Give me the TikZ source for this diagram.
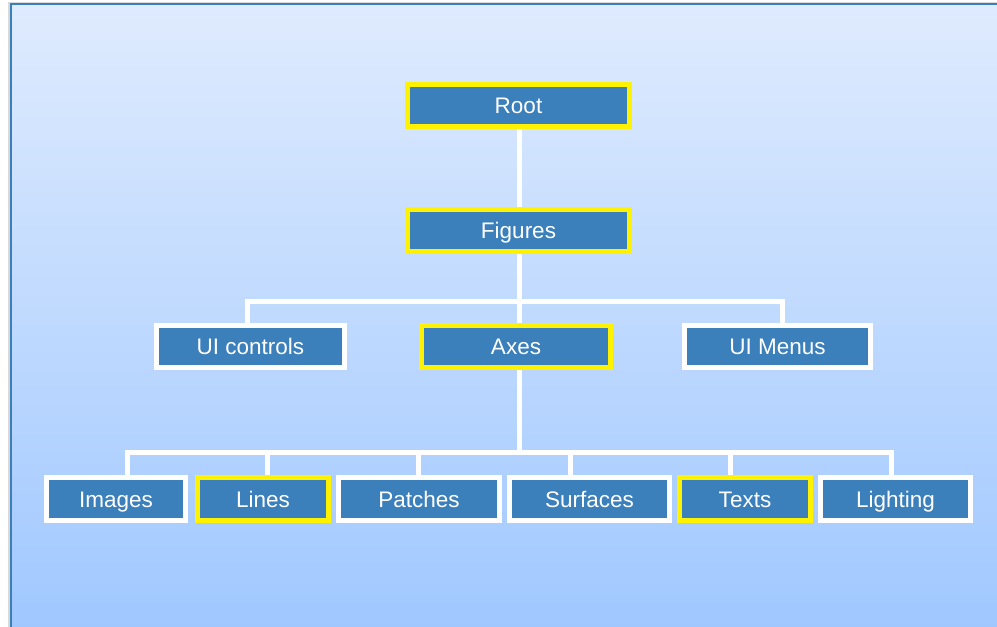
\documentclass[tikz,border=0pt]{standalone}
\usepackage{fontspec}
\setmainfont{Liberation Sans}
\usepackage{xcolor}
\usepackage{tikz}
\usetikzlibrary{shadows,backgrounds}

\definecolor{bgtop}{RGB}{223,235,254}
\definecolor{bgbot}{RGB}{160,200,255}
\definecolor{boxblue}{RGB}{59,127,187}
\definecolor{rahmen}{RGB}{58,126,186}

\begin{document}
\begin{tikzpicture}[x=1pt,y=-1pt,
		box/.style={draw=white, line width=5pt, fill=boxblue, text=white, inner sep=0pt,
			minimum height=42pt, text height=18pt, text depth=2pt,
			font=\fontsize{22.5}{26}\selectfont,
			drop shadow={shadow xshift=1pt, shadow yshift=-2pt, opacity=0.25}},
		hibox/.style={box, draw=yellow},
		link/.style={draw=white, line width=5pt}]
		\useasboundingbox (0,0) rectangle (997,627);

		% Koordinaten
		\coordinate (busAL) at (247,301);
		\coordinate (busAR) at (782,301);
		\coordinate (busBL) at (127,452);
		\coordinate (busBR) at (891,452);
		\coordinate (busBM) at (519,452);

		% Knoten
		\node[hibox, minimum width=222pt] (root) at (518.5,105.5) {Root};
		\node[hibox, minimum width=222pt] (figures) at (518.5,230) {Figures};

		\node[box, minimum width=188pt] (uictl) at (250.5,346.5) {UI controls};
		\node[hibox, minimum width=189pt] (axes) at (516,346.5) {Axes};
		\node[box, minimum width=186pt] (uimenu) at (777.5,346.5) {UI Menus};

		\node[box, minimum width=139pt, minimum height=43pt] (images) at (116,499) {Images};
		\node[hibox, minimum width=131pt, minimum height=43pt] (lines) at (263,499) {Lines};
		\node[box, minimum width=161pt, minimum height=43pt] (patches) at (419,499) {Patches};
		\node[box, minimum width=160pt, minimum height=43pt] (surfaces) at (589.5,499) {Surfaces};
		\node[hibox, minimum width=131pt, minimum height=43pt] (texts) at (745,499) {Texts};
		\node[box, minimum width=150pt, minimum height=43pt] (lighting) at (895.5,499) {Lighting};

		\begin{scope}[on background layer]
			% Hintergrund
			\fill[white] (0,0) rectangle (997,627);
			\fill[gray!30] (8,2) rectangle (997,627);
			\shade[top color=bgtop, bottom color=bgbot] (11,4) rectangle (997,627);
			\draw[rahmen, line width=2.5pt] (11,627) -- (11,4) -- (997,4);

			% Verbindungen
			\draw[link] (root.south -| busBM) -- (figures.north -| busBM);
			\draw[link] (figures.south -| busBM) -- (axes.north -| busBM);
			\draw[link] (uictl.north -| busAL) -- (busAL) -- (busAR) -- (uimenu.north -| busAR);
			\draw[link] (axes.south -| busBM) -- (busBM);
			\draw[link] (images.north -| busBL) -- (busBL) -- (busBR) -- (lighting.north -| busBR);
			\draw[link] (267,452) -- (lines.north -| 267,0);
			\draw[link] (418,452) -- (patches.north -| 418,0);
			\draw[link] (570,452) -- (surfaces.north -| 570,0);
			\draw[link] (730,452) -- (texts.north -| 730,0);
		\end{scope}
	\end{tikzpicture}
\end{document}
